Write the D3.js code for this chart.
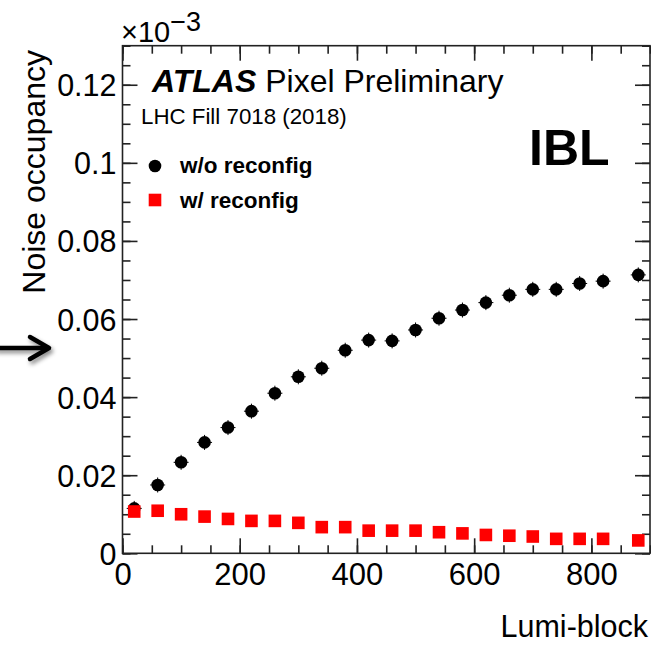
<!DOCTYPE html>
<html>
<head>
<meta charset="utf-8">
<script src="https://cdn.jsdelivr.net/npm/d3@7"></script>
<style>
  body { margin: 0; background: #fff; }
  svg text { font-family: "Liberation Sans", Arial, Helvetica, sans-serif; fill: #000; }
</style>
</head>
<body>
<div id="chart"></div>
<script>
var svgWidth = 651;
var svgHeight = 645;

// plot frame edges in pixels
var frame = { left: 122.5, right: 650, top: 45.7, bottom: 553.3 };

// data (y in units of 10^-3)
var lumiBlock = [20, 60, 100, 140, 180, 220, 260, 300, 340, 380, 420, 460, 500, 540, 580, 620, 660, 700, 740, 780, 820, 880];
var occupancyNoReconfig = [0.0115, 0.0175, 0.0233, 0.0284, 0.0322, 0.0364, 0.0410, 0.0452, 0.0474, 0.0520, 0.0546, 0.0544, 0.0572, 0.0602, 0.0623, 0.0642, 0.0661, 0.0676, 0.0676, 0.0691, 0.0697, 0.0713];
var occupancyReconfig = [0.0107, 0.0109, 0.0100, 0.0094, 0.0088, 0.0083, 0.0083, 0.0078, 0.0067, 0.0067, 0.0058, 0.0058, 0.0058, 0.0054, 0.0051, 0.0047, 0.0045, 0.0043, 0.0037, 0.0037, 0.0037, 0.0033];

var xMajorTicks = [0, 200, 400, 600, 800];
var xTickLabels = ["0", "200", "400", "600", "800"];
var yMajorTicks = [0, 0.02, 0.04, 0.06, 0.08, 0.1, 0.12];
var yTickLabels = ["0", "0.02", "0.04", "0.06", "0.08", "0.1", "0.12"];
var legendLabels = ["w/o reconfig", "w/ reconfig"];

var svg = d3.select("#chart")
  .append("svg")
  .attr("width", svgWidth)
  .attr("height", svgHeight);

var defs = svg.append("defs");
var shadow = defs.append("filter")
  .attr("id", "shadow")
  .attr("x", "-20%").attr("y", "-50%")
  .attr("width", "150%").attr("height", "250%");
shadow.append("feDropShadow")
  .attr("dx", 2).attr("dy", 3)
  .attr("stdDeviation", 2)
  .attr("flood-color", "#000")
  .attr("flood-opacity", 0.45);

var xScale = d3.scaleLinear().domain([0, 900]).range([frame.left, frame.right]);
var yScale = d3.scaleLinear().domain([0, 0.13]).range([frame.bottom, frame.top]);

var xMinor = d3.range(0, 901, 50);
var yMinor = d3.range(0, 0.1301, 0.005);

var axisColor = "#222";

// ticks on all four sides, pointing inward
function drawAxis(axis, tx, ty) {
  var g = svg.append("g")
    .attr("transform", `translate(${tx}, ${ty})`)
    .call(axis);
  g.select(".domain").remove();
  g.selectAll("line").attr("stroke", axisColor).attr("stroke-width", 1.6);
  return g;
}

drawAxis(d3.axisBottom(xScale).tickValues(xMinor).tickSize(-8).tickFormat(""), 0, frame.bottom);
drawAxis(d3.axisTop(xScale).tickValues(xMinor).tickSize(-8).tickFormat(""), 0, frame.top);
drawAxis(d3.axisTop(xScale).tickValues(xMajorTicks).tickSize(-15).tickFormat(""), 0, frame.top);
drawAxis(d3.axisLeft(yScale).tickValues(yMinor).tickSize(-8).tickFormat(""), frame.left, 0);
drawAxis(d3.axisRight(yScale).tickValues(yMinor).tickSize(-8).tickFormat(""), frame.right, 0);
drawAxis(d3.axisRight(yScale).tickValues(yMajorTicks).tickSize(-15).tickFormat(""), frame.right, 0);

var xAxis = drawAxis(d3.axisBottom(xScale).tickValues(xMajorTicks).tickSize(-15)
  .tickFormat((d, i) => xTickLabels[i]), 0, frame.bottom);
xAxis.selectAll("text")
  .attr("y", 32).attr("dy", null)
  .attr("font-size", 31)
  .attr("fill", "#000");

var yAxis = drawAxis(d3.axisLeft(yScale).tickValues(yMajorTicks).tickSize(-15)
  .tickFormat((d, i) => yTickLabels[i]), frame.left, 0);
yAxis.selectAll("text")
  .attr("x", -6).attr("dy", "0.36em")
  .attr("font-size", 30.5)
  .attr("fill", "#000");

// frame
svg.append("rect")
  .attr("x", frame.left).attr("y", frame.top)
  .attr("width", frame.right - frame.left)
  .attr("height", frame.bottom - frame.top)
  .attr("fill", "none")
  .attr("stroke", axisColor)
  .attr("stroke-width", 1.6);

// exponent label
var expo = svg.append("text").attr("x", 121).attr("y", 42).attr("font-size", 29);
expo.append("tspan").text("\u00d710");
expo.append("tspan").attr("dy", -11).attr("font-size", 27).text("\u22123");

// axis titles
svg.append("text")
  .attr("transform", "translate(45, 50) rotate(-90)")
  .attr("text-anchor", "end")
  .attr("font-size", 32)
  .text("Noise occupancy");

svg.append("text")
  .attr("x", 648).attr("y", 637)
  .attr("text-anchor", "end")
  .attr("font-size", 30.5)
  .text("Lumi-block");

// markers: small error ticks behind the black dots
var points = svg.append("g");
points.selectAll(".errx")
  .data(lumiBlock)
  .enter()
  .append("line")
  .attr("x1", d => xScale(d) - 7.5).attr("x2", d => xScale(d) + 7.5)
  .attr("y1", (d, i) => yScale(occupancyNoReconfig[i]))
  .attr("y2", (d, i) => yScale(occupancyNoReconfig[i]))
  .attr("stroke", "#000").attr("stroke-width", 1);
points.selectAll(".erry")
  .data(lumiBlock)
  .enter()
  .append("line")
  .attr("x1", d => xScale(d)).attr("x2", d => xScale(d))
  .attr("y1", (d, i) => yScale(occupancyNoReconfig[i]) - 7.5)
  .attr("y2", (d, i) => yScale(occupancyNoReconfig[i]) + 7.5)
  .attr("stroke", "#000").attr("stroke-width", 1);

points.selectAll(".dot")
  .data(lumiBlock)
  .enter()
  .append("circle")
  .attr("cx", d => xScale(d))
  .attr("cy", (d, i) => yScale(occupancyNoReconfig[i]))
  .attr("r", 6.3)
  .attr("fill", "#000");

points.selectAll(".sq")
  .data(lumiBlock)
  .enter()
  .append("rect")
  .attr("x", d => xScale(d) - 6.3)
  .attr("y", (d, i) => yScale(occupancyReconfig[i]) - 6.3)
  .attr("width", 12.6).attr("height", 12.6)
  .attr("fill", "#ff0000");

// labels
var atlas = svg.append("text").attr("x", 152).attr("y", 92).attr("font-size", 32);
atlas.append("tspan").attr("font-weight", "bold").attr("font-style", "italic").text("ATLAS");
atlas.append("tspan").text(" Pixel Preliminary");

svg.append("text")
  .attr("x", 141).attr("y", 124)
  .attr("font-size", 22.3)
  .text("LHC Fill 7018 (2018)");

svg.append("text")
  .attr("x", 529).attr("y", 165)
  .attr("font-size", 50)
  .attr("font-weight", "bold")
  .text("IBL");

// legend
svg.append("circle").attr("cx", 155).attr("cy", 166).attr("r", 6.3).attr("fill", "#000");
svg.append("rect").attr("x", 148.7).attr("y", 193.7).attr("width", 12.6).attr("height", 12.6).attr("fill", "#ff0000");
svg.append("text").attr("x", 180).attr("y", 173).attr("font-size", 22.5).attr("font-weight", "bold").text(legendLabels[0]);
svg.append("text").attr("x", 180).attr("y", 208).attr("font-size", 22.5).attr("font-weight", "bold").text(legendLabels[1]);

// arrow pointing at the axis
var arrow = svg.append("g")
  .attr("filter", "url(#shadow)")
  .attr("stroke", "#000")
  .attr("stroke-width", 4.5)
  .attr("stroke-linecap", "round")
  .attr("stroke-linejoin", "round")
  .attr("fill", "none");
arrow.append("line").attr("x1", -4).attr("y1", 348).attr("x2", 48).attr("y2", 348);
arrow.append("polyline").attr("points", "30,337 49,348 30,359");
</script>
</body>
</html>
